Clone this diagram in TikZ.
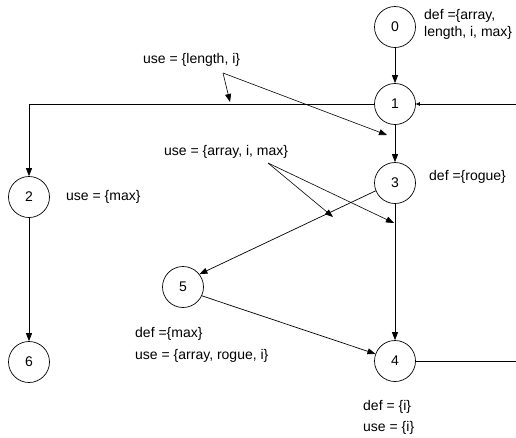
\documentclass[tikz,border=0pt]{standalone}
\usepackage{fontspec}
\setmainfont{Liberation Sans}
\usetikzlibrary{arrows.meta}
\begin{document}
\begin{tikzpicture}[x=1pt,y=-1pt,
  state/.style={circle,draw,line width=0.7pt,minimum size=41pt,inner sep=0pt,font=\fontsize{14}{16}\selectfont},
  lbl/.style={anchor=west,inner sep=0pt,font=\fontsize{14}{17}\selectfont,align=left},
  edge/.style={line width=0.7pt,-{Triangle[length=8pt,width=6pt]}},
  smalltip/.style={line width=0.7pt,-{Triangle[length=4pt,width=3.5pt]}},
  plain/.style={line width=0.7pt},
  note/.style={line width=0.6pt,-{Triangle[length=8pt,width=6pt]}}]
\useasboundingbox (0,0) rectangle (516,437);
% states
\node[state] (n0) at (395,27) {0};
\node[state] (n1) at (395,104) {1};
\node[state] (n3) at (395,183) {3};
\node[state] (n4) at (395,361) {4};
\node[state] (n2) at (29,197) {2};
\node[state] (n6) at (29,362) {6};
\node[state] (n5) at (183,287) {5};
% labels
\node[lbl] (t0) at (424,24) {def =\{array,\\length, i, max\}};
\node[lbl] (t1) at (143,60) {use = \{length, i\}};
\node[lbl] (t2) at (164,152) {use = \{array, i, max\}};
\node[lbl] (t3) at (429,177) {def =\{rogue\}};
\node[lbl] (t4) at (66,197) {use = \{max\}};
\node[lbl] (t5) at (135,334) {def =\{max\}};
\node[lbl] (t6) at (135,356) {use = \{array, rogue, i\}};
\node[lbl] (t7) at (363,407) {def = \{i\}};
\node[lbl] (t8) at (363,428) {use = \{i\}};
% free ends
\coordinate (r1) at (516,104);
\coordinate (r4) at (516,361);
% edges
\draw[edge] (n0) -- (n1);
\draw[edge] (n1) -| (n2);
\draw[smalltip] (r1) -- (n1);
\draw[edge] (n1) -- (n3);
\draw[edge] (n3.202) -- (n5.38);
\draw[edge] (n3) -- (n4);
\draw[edge] (n5.-25) -- (n4.160);
\draw[edge] (n2) -- (n6);
\draw[plain] (n4) -- (r4);
% annotation arrows
\coordinate (s1) at (223,73);
\coordinate (p1) at (230,102);
\coordinate (p2) at (387,135);
\coordinate (s2) at (268,163);
\coordinate (p3) at (333,217);
\coordinate (p4) at (394,223);
\draw[note] (s1) -- (p1);
\draw[note] (s1) -- (p2);
\draw[note] (s2) -- (p3);
\draw[note] (s2) -- (p4);
\end{tikzpicture}
\end{document}
